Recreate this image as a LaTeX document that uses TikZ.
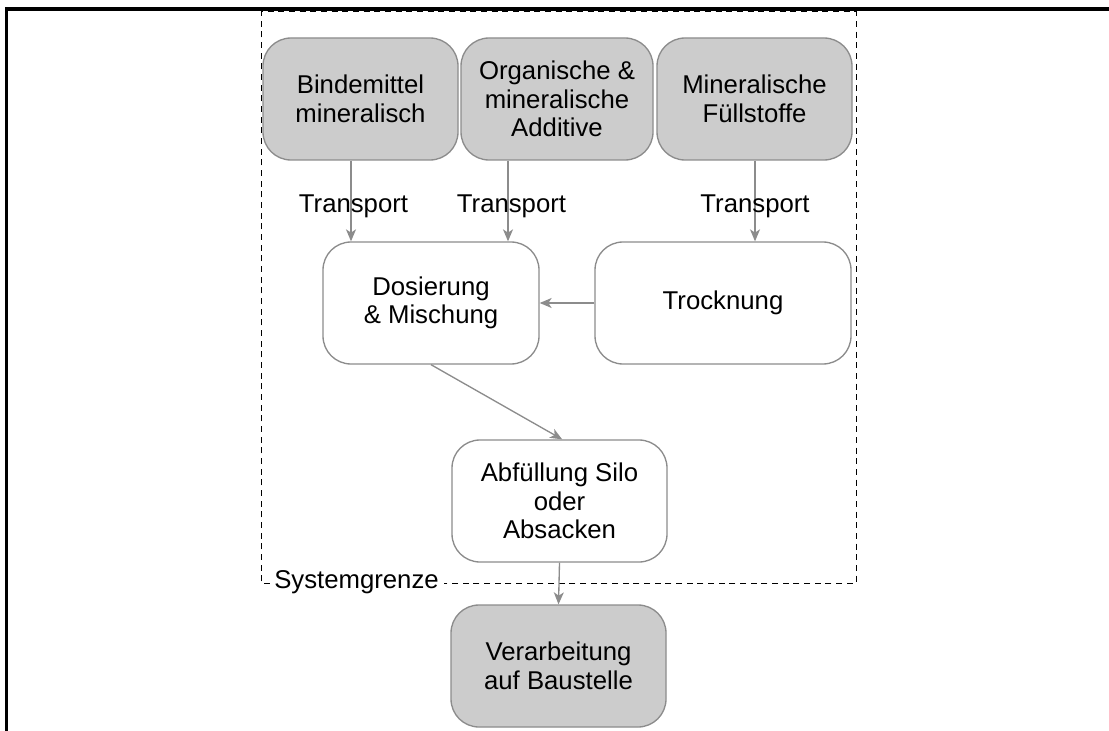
\documentclass[tikz,border=0pt]{standalone}
\usepackage{fontspec}
\setmainfont{Liberation Sans}
\usetikzlibrary{arrows.meta}
\definecolor{boxfill}{HTML}{CCCCCC}
\definecolor{boxline}{HTML}{8C8C8C}
\definecolor{arrowgray}{HTML}{8C8C8C}
\begin{document}
\begin{tikzpicture}[x=0.75pt,y=-0.75pt,
  txt/.style={font=\fontsize{19.3}{21.5}\selectfont},
  box/.style={txt, draw=boxline, line width=1pt, rounded corners=21pt,
    align=center, minimum height=91.5pt, inner sep=2pt},
  src/.style={box, fill=boxfill},
  proc/.style={box, fill=white},
  flow/.style={draw=arrowgray, line width=1pt,
    -{Stealth[length=9pt,width=7.5pt,inset=2.5pt]}},
  lbl/.style={txt, anchor=base, inner sep=0pt},
  boundary/.style={draw=black, line width=0.75pt, dash pattern=on 4.5pt off 3.5pt},
  frameline/.style={draw=black, line width=2.5pt}]

\useasboundingbox (0,0) rectangle (1109,731);

% outer frame (left and top edges)
\draw[frameline] (6.5,731) -- (6.5,9) -- (1109,9);

% raw materials
\node[src, minimum width=146.25pt] (bind) at (360.5,99) {Bindemittel\\mineralisch};
\node[src, minimum width=144pt]    (org)  at (557,99)   {Organische \&\\mineralische\\Additive};
\node[src, minimum width=146.25pt] (fill) at (754.5,99) {Mineralische\\Füllstoffe};

% processing steps
\node[proc, minimum width=162pt]    (dos) at (431,303)   {Dosierung\\\& Mischung};
\node[proc, minimum width=192pt]    (tro) at (723,303)   {Trocknung};
\node[proc, minimum width=161.25pt] (abf) at (559.5,501) {Abfüllung Silo\\oder\\Absacken};

% use on site
\node[src, minimum width=161.25pt] (ver) at (558.5,666) {Verarbeitung\\auf Baustelle};

% system boundary
\node[lbl] (sys) at (356.5,588) {Systemgrenze};
\coordinate (bl) at (261,583);
\coordinate (tl) at (261,12);
\coordinate (tr) at (856,12);
\coordinate (br) at (856,583);
\draw[boundary] ([xshift=-3pt]sys.west |- bl) -- (bl) -- (tl) -- (tr) -- (br)
  -- ([xshift=4pt]sys.east |- br);

% transports
\draw[flow] (bind.south -| 351,0) -- (dos.north -| 351,0);
\draw[flow] (org.south -| 508,0)  -- (dos.north -| 508,0);
\draw[flow] (fill.south -| 755,0) -- (tro.north -| 755,0);
\node[lbl] (t1) at (353.5,212) {Transport};
\node[lbl] (t2) at (511.5,212) {Transport};
\node[lbl] (t3) at (755,212)   {Transport};

% material flow
\draw[flow] (tro.west) -- (dos.east);
\draw[flow] (dos.south) -- ([xshift=2pt]abf.north);
\draw[flow] (abf.south) -- (ver.north);
\end{tikzpicture}
\end{document}
